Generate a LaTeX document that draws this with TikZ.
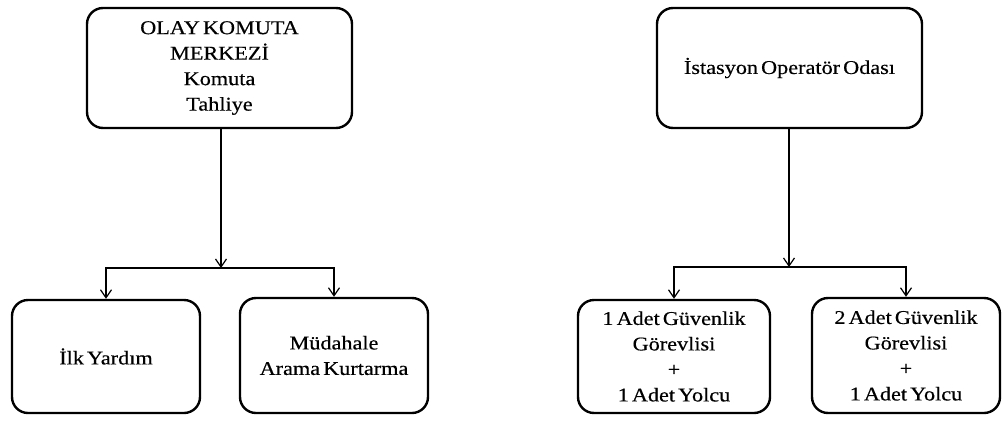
\documentclass[tikz,border=0pt]{standalone}
\usepackage{fontspec}
\setmainfont{Liberation Serif}[FakeStretch=1.14, WordSpace=0.55, FakeBold=0.4]
\usetikzlibrary{arrows.meta}
\begin{document}
\begin{tikzpicture}[x=1pt,y=-1pt,
  box/.style={draw, line width=2.4pt, rounded corners=16pt, align=center,
    inner sep=0pt, font=\fontsize{19.5}{25.5}\selectfont},
  link/.style={line width=1.2pt, -{Straight Barb[length=8pt,width=11pt,line width=1.2pt]}}]
\useasboundingbox (0,0) rectangle (1002,421);
% command centre branch
\node[box, minimum width=265pt, minimum height=120pt] (A) at (219.5,68)
  {OLAY KOMUTA\\MERKEZİ\\Komuta\\Tahliye};
\node[box, minimum width=188pt, minimum height=113pt] (C) at (106,356.5) {İlk Yardım};
\node[box, minimum width=188pt, minimum height=115pt] (D) at (334,355.5)
  {Müdahale\\Arama Kurtarma};
\coordinate (jA) at (221,268);
\draw[link] (A.south -| jA) -- (jA);
\draw[link] (jA) -| (C.north);
\draw[link] (jA) -| (D.north);
% station operator branch
\node[box, minimum width=265pt, minimum height=120pt] (B) at (789.5,68)
  {İstasyon Operatör Odası};
\node[box, minimum width=192pt, minimum height=113pt] (E) at (674,356.5)
  {1 Adet Güvenlik\\Görevlisi\\+\\1 Adet Yolcu};
\node[box, minimum width=188pt, minimum height=115pt] (F) at (906,355.5)
  {2 Adet Güvenlik\\Görevlisi\\+\\1 Adet Yolcu};
\coordinate (jB) at (789,267);
\draw[link] (B.south -| jB) -- (jB);
\draw[link] (jB) -| (E.north);
\draw[link] (jB) -| (F.north);
\end{tikzpicture}
\end{document}
